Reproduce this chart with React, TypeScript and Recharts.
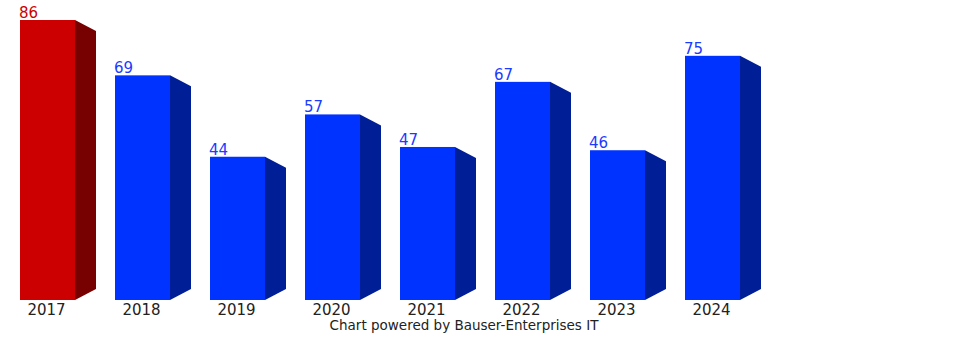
import React from 'react';
import { BarChart, Bar, XAxis, YAxis, LabelList, Customized, Cell } from 'recharts';

const years = ['2017', '2018', '2019', '2020', '2021', '2022', '2023', '2024'];
const values = [86, 69, 44, 57, 47, 67, 46, 75];
const highlight = [true, false, false, false, false, false, false, false];

const data = years.map((year, i) => ({ year, value: values[i], hot: highlight[i] }));

const FONT = '"DejaVu Sans", Verdana, sans-serif';
const DEPTH_X = 21;
const DEPTH_Y = 11;

const Bar3D = (props: any) => {
  const { x, y, width, height, payload } = props;
  const front = payload.hot ? '#cc0000' : '#0033ff';
  const side = payload.hot ? '#770000' : '#001e96';
  const right = x + width;
  const bottom = y + height;
  return (
    <g>
      <polygon
        points={`${right},${y} ${right + DEPTH_X},${y + DEPTH_Y} ${right + DEPTH_X},${bottom - DEPTH_Y} ${right},${bottom}`}
        fill={side}
      />
      <rect x={x} y={y} width={width} height={height} fill={front} />
    </g>
  );
};

const ValueLabel = (props: any) => {
  const { x, y, value, index } = props;
  return (
    <text x={x - 1} y={y - 2} fill={highlight[index] ? '#cc0000' : '#1a3cff'} fontSize={15} fontFamily={FONT}>
      {value}
    </text>
  );
};

const YearTick = (props: any) => {
  const { x, y, payload } = props;
  return (
    <text x={x - 1} y={y + 15} textAnchor="middle" fill="#222" fontSize={15} fontFamily={FONT}>
      {payload.value}
    </text>
  );
};

const Footer = () => (
  <text x={464} y={330} textAnchor="middle" fill="#222" fontSize={13.5} fontFamily={FONT}>
    Chart powered by Bauser-Enterprises IT
  </text>
);

export default function App() {
  return (
    <div style={{ position: 'absolute', left: 0, top: 0, background: '#fff' }}>
      <BarChart width={970} height={340} data={data} margin={{ top: 20, right: 210, left: 0, bottom: 0 }}>
        <XAxis
          dataKey="year"
          axisLine={false}
          tickLine={false}
          tick={<YearTick />}
          tickMargin={0}
          tickSize={0}
          height={40}
        />
        <YAxis hide domain={[0, 86]} />
        <Bar dataKey="value" barSize={55} shape={<Bar3D />} isAnimationActive={false}>
          {data.map((d) => (
            <Cell key={d.year} />
          ))}
          <LabelList dataKey="value" content={<ValueLabel />} />
        </Bar>
        <Customized component={Footer} />
      </BarChart>
    </div>
  );
}
